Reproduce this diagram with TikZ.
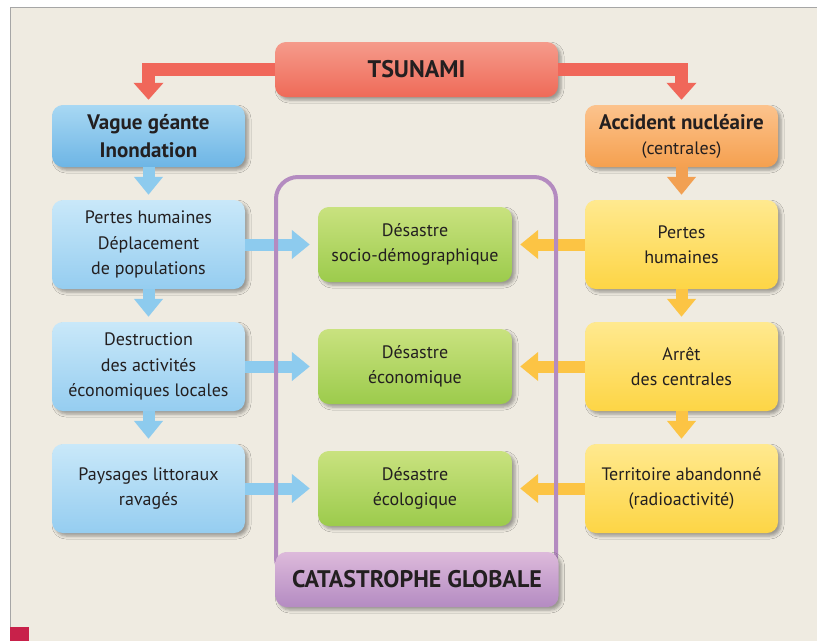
\documentclass[tikz,border=0pt]{standalone}
\usepackage{fontspec}
\setmainfont{PT Sans}
\usetikzlibrary{arrows.meta,shadows.blur}

\definecolor{fond}{HTML}{EFEBE1}
\definecolor{txt}{HTML}{231F20}
\definecolor{tsutop}{HTML}{F59B8B}
\definecolor{tsubot}{HTML}{EF6A58}
\definecolor{vagtop}{HTML}{A8D8F3}
\definecolor{vagbot}{HTML}{6DB5E5}
\definecolor{bleutop}{HTML}{C9E8F9}
\definecolor{bleubot}{HTML}{95CDF0}
\definecolor{acctop}{HTML}{FCC38D}
\definecolor{accbot}{HTML}{F5A04F}
\definecolor{jaunetop}{HTML}{FFE98F}
\definecolor{jaunebot}{HTML}{FDD545}
\definecolor{verttop}{HTML}{C9E27F}
\definecolor{vertbot}{HTML}{9CCB4C}
\definecolor{globtop}{HTML}{DDBADB}
\definecolor{globbot}{HTML}{B48BC2}
\definecolor{cadre}{HTML}{B48BC0}
\definecolor{flrouge}{HTML}{F0675A}
\definecolor{flbleu}{HTML}{8DCBEE}
\definecolor{florange}{HTML}{F2A052}
\definecolor{fljaune}{HTML}{FCC444}
\definecolor{carre}{HTML}{C8214A}

\begin{document}
\begin{tikzpicture}[x=1pt,y=-1pt,
  box/.style={rounded corners=11pt, minimum width=193pt, minimum height=89pt,
    inner sep=2pt, align=center, text=txt, font=\fontsize{18}{25.5}\selectfont,
    blur shadow={shadow xshift=3pt, shadow yshift=-3pt, shadow blur radius=3pt, shadow opacity=35}},
  topbox/.style={box, minimum height=62pt, font=\fontsize{21}{28}\selectfont},
  greenbox/.style={box, minimum width=194pt, minimum height=75pt, top color=verttop, bottom color=vertbot},
  bigbox/.style={box, minimum width=283pt, minimum height=55pt, font=\fontsize{24}{28}\selectfont\bfseries},
  fleche/.style={line width=12pt, -{Triangle[width=28pt,length=18pt]}},
  flrg/.style={fleche, draw=flrouge, line width=12.5pt, -{Triangle[width=29pt,length=17pt]}, shorten >=5pt},
  flbl/.style={fleche, draw=flbleu},
  flor/.style={fleche, draw=florange},
  flja/.style={fleche, draw=fljaune}
]
\useasboundingbox (0,0) rectangle (817,641);
\fill[white] (0,0) rectangle (817,641);
\fill[fond] (10,7) rectangle (817,641);
\draw[gray!70, line width=1pt] (10,641) -- (10,7) -- (817,7);
\fill[carre] (10,627) rectangle (29,641);

% tsunami et les deux causes
\node[bigbox, top color=tsutop, bottom color=tsubot] (tsu) at (416.5,69.5) {TSUNAMI};
\node[topbox, top color=vagtop, bottom color=vagbot] (vague) at (148.5,136)
  {\bfseries Vague géante\\\bfseries Inondation};
\node[topbox, top color=acctop, bottom color=accbot] (acc) at (681.5,136)
  {\bfseries Accident nucléaire\\[-3pt]{\fontsize{18}{25}\selectfont (centrales)}};

% colonne de gauche
\node[box, top color=bleutop, bottom color=bleubot] (pl1) at (148.5,244.5)
  {Pertes humaines\\Déplacement\\de populations};
\node[box, top color=bleutop, bottom color=bleubot] (pl2) at (148.5,366.5)
  {Destruction\\des activités\\économiques locales};
\node[box, top color=bleutop, bottom color=bleubot] (pl3) at (148.5,488.5)
  {Paysages littoraux\\ravagés};

% colonne de droite
\node[box, top color=jaunetop, bottom color=jaunebot] (pr1) at (681.5,244.5)
  {Pertes\\humaines};
\node[box, top color=jaunetop, bottom color=jaunebot] (pr2) at (681.5,366.5)
  {Arrêt\\des centrales};
\node[box, top color=jaunetop, bottom color=jaunebot] (pr3) at (681.5,488.5)
  {Territoire abandonné\\(radioactivité)};

% desastres
\node[greenbox] (g1) at (415,244.5) {Désastre\\socio-démographique};
\node[greenbox] (g2) at (415,366.5) {Désastre\\économique};
\node[greenbox] (g3) at (415,488.5) {Désastre\\écologique};

% fleches
\draw[flrg] (tsu.west) -| (vague.north);
\draw[flrg] (tsu.east) -| (acc.north);
\draw[flbl, shorten >=5pt] (vague) -- (pl1);
\draw[flor, shorten >=5pt] (acc) -- (pr1);
\foreach \a/\b in {pl1/pl2,pl2/pl3} {
  \draw[flbl, shorten >=5pt] (\a) -- (\b);
}
\foreach \a/\b in {pr1/pr2,pr2/pr3} {
  \draw[flja, shorten >=5pt] (\a) -- (\b);
}
\foreach \a/\b/\c in {pl1/g1/pr1,pl2/g2/pr2,pl3/g3/pr3} {
  \draw[flbl, shorten >=8pt] (\a) -- (\b);
  \draw[flja, shorten >=8pt] (\c) -- (\b);
}

% cadre de la catastrophe globale
\draw[cadre, line width=4pt, rounded corners=22pt] (276,177) rectangle (556,580);
\node[bigbox, top color=globtop, bottom color=globbot] (glob) at (417,579.5) {CATASTROPHE GLOBALE};
\end{tikzpicture}
\end{document}
